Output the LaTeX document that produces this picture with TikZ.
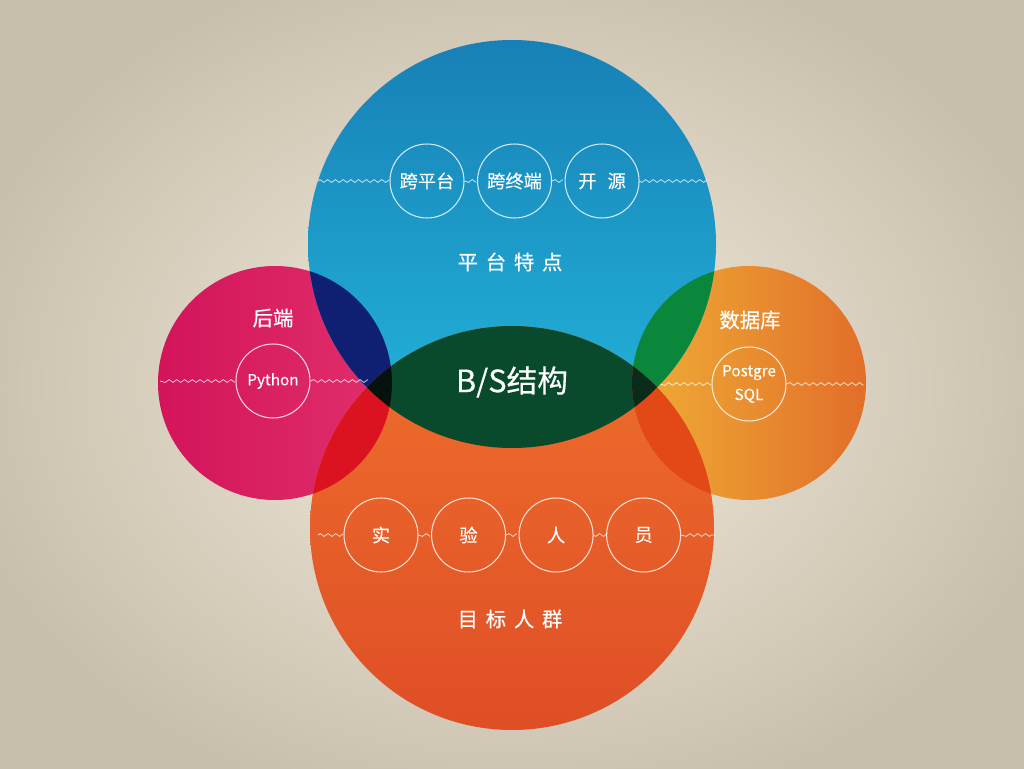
\documentclass[tikz,border=0pt]{standalone}
\usepackage{fontspec}
\setmainfont{Noto Sans CJK SC}
\newfontfamily\heavy{Noto Sans CJK SC}[FakeBold=0.4]
\usetikzlibrary{positioning, decorations.pathmorphing}
\definecolor{paperin}{HTML}{F4EDDD}
\definecolor{paperout}{HTML}{C8BEAC}
\definecolor{blueA}{HTML}{1880B6}
\definecolor{blueB}{HTML}{22B6DC}
\definecolor{orangeA}{HTML}{EE6F2C}
\definecolor{orangeM}{HTML}{F07E38}
\definecolor{orangeB}{HTML}{DF4E26}
\definecolor{pinkA}{HTML}{D3145A}
\definecolor{pinkB}{HTML}{E12F6C}
\definecolor{goldA}{HTML}{EFAE36}
\definecolor{goldB}{HTML}{E26E2A}
\definecolor{navy}{HTML}{0F1F72}
\definecolor{scarlet}{HTML}{DB1220}
\definecolor{leaf}{HTML}{0B873C}
\definecolor{ember}{HTML}{E34916}
\definecolor{lens}{HTML}{0A4A2C}
\definecolor{nightA}{HTML}{06120E}
\definecolor{nightB}{HTML}{0A2A1A}
\newcommand{\wgap}{\hspace{0.38em}}
\tikzset{
	tag/.style={circle, draw=white, draw opacity=0.8, line width=0.6pt, minimum size=1.48cm, inner sep=0pt, text=white, font=\heavy\fontsize{10.4}{12}\selectfont}, % the small ringed words
	small tag/.style={tag, font=\heavy\fontsize{8.7}{13.5}\selectfont}, % latin words in the side rings
	wave/.style={draw=white, draw opacity=0.75, line width=0.45pt, decorate, decoration={zigzag, segment length=4.4pt, amplitude=0.8pt}}, % zigzag threads
	title/.style={text=white, font=\heavy\fontsize{11.6}{14}\selectfont}, % circle captions
	node distance=0.25cm, % gap between two rings in a row
}

\begin{document}
\begin{tikzpicture}[x=0.02cm, y=0.02cm]
	% paper
	\useasboundingbox (0,0) rectangle (1024,768);
	\clip (0,0) rectangle (1024,768);
	\shade[inner color=paperin, outer color=paperout] (-60,-60) rectangle (1084,828);
	% big circles
	\shade[left color=pinkA, right color=pinkB] (275,385) circle (117);
	\shade[left color=goldA, right color=goldB] (749,385) circle (117);
	\shade[top color=blueA, bottom color=blueB] (512,524) circle (204);
	\shade[top color=orangeA, middle color=orangeM, bottom color=orangeB] (512,240) circle (202);
	% overlaps
	\begin{scope}
		\clip (512,524) circle (204);
		\fill[navy] (275,385) circle (117);
		\fill[leaf] (749,385) circle (117);
		\fill[lens] (512,240) circle (202);
		\clip (512,240) circle (202);
		\fill[nightA] (275,385) circle (117);
		\fill[nightB] (749,385) circle (117);
	\end{scope}
	\begin{scope}
		\clip (512,240) circle (202);
		\fill[scarlet] (275,385) circle (117);
		\fill[ember] (749,385) circle (117);
		\clip (512,524) circle (204);
		\fill[nightA] (275,385) circle (117);
		\fill[nightB] (749,385) circle (117);
	\end{scope}

	% top row
	\node[tag] (p1) at (427,587) {跨平台};
	\node[tag, right=of p1] (p2) {跨终端};
	\node[tag, right=of p2] (p3) {开\hspace{0.6em}源};
	\coordinate (pl) at (318,587);
	\coordinate (pr) at (706,587);
	\node[title] (feat) at (510,506) {平\wgap 台\wgap 特\wgap 点};

	% left
	\node[small tag] (py) at (273,387) {Python};
	\coordinate (pyl) at (160,387);
	\coordinate (pyr) at (367,387);
	\node[title] (back) at (273,450) {后端};

	% right
	\node[small tag, align=center] (pg) at (749,384) {Postgre\\SQL};
	\coordinate (pgl) at (660,384);
	\coordinate (pgr) at (865,384);
	\node[title] (db) at (750,448) {数据库};

	% bottom row
	\node[tag] (u1) at (381,233) {实};
	\node[tag, right=of u1] (u2) {验};
	\node[tag, right=of u2] (u3) {人};
	\node[tag, right=of u3] (u4) {员};
	\coordinate (ul) at (318,233);
	\coordinate (ur) at (715,233);
	\node[title] (who) at (510,149) {目\wgap 标\wgap 人\wgap 群};

	\node[text=white, font=\heavy\fontsize{17.5}{20}\selectfont] (bs) at (512,386) {B/S结构};

	\draw[wave] (pl) -- (p1) (p1) -- (p2) (p2) -- (p3) (p3) -- (pr)
		(pyl) -- (py) (py) -- (pyr)
		(pgl) -- (pg) (pg) -- (pgr)
		(ul) -- (u1) (u1) -- (u2) (u2) -- (u3) (u3) -- (u4) (u4) -- (ur);
\end{tikzpicture}
\end{document}
